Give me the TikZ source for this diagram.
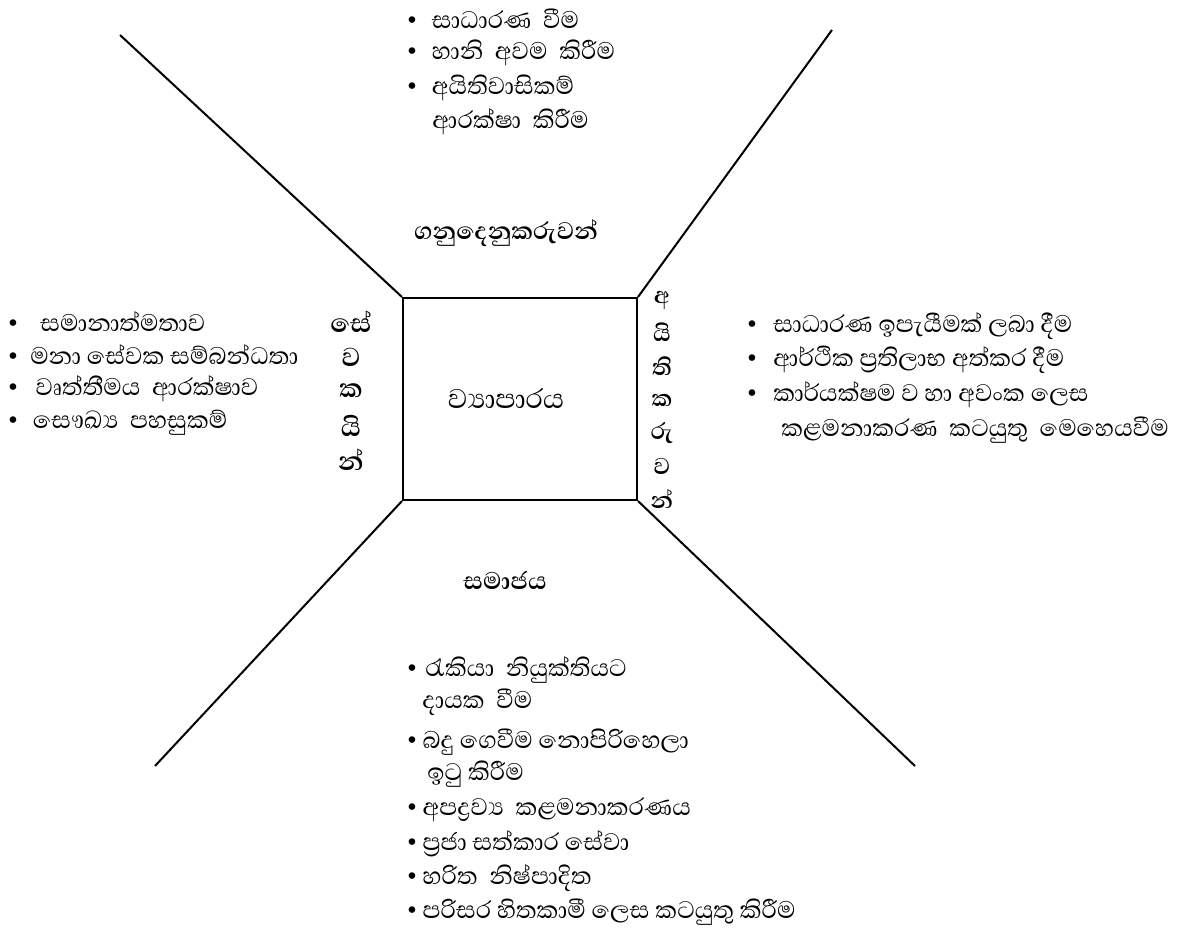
\documentclass[tikz,border=0pt]{standalone}
\usepackage{fontspec}
\newfontfamily\si[Script=Sinhala]{Abhaya Libre}
\newfontfamily\bulf{DejaVu Sans}
\newcommand\bl[1]{\makebox[#1][l]{\bulf\fontsize{17}{17}\selectfont •}}
\begin{document}
\begin{tikzpicture}[x=0.75pt,y=-0.75pt,
  ln/.style={line width=1.5pt},
  txt/.style={anchor=west,inner sep=0pt,font=\si\fontsize{23}{27}\selectfont},
  hd/.style={inner sep=0pt,font=\si\bfseries\fontsize{23}{27}\selectfont},
  vt/.style={inner sep=0pt,font=\si\bfseries\fontsize{25}{29}\selectfont},
  vtr/.style={inner sep=0pt,font=\si\bfseries\fontsize{22}{26}\selectfont}]
\useasboundingbox (0,0) rectangle (1193,930);
% central box
\node[draw,line width=1.5pt,minimum width=175.5pt,minimum height=151.5pt,inner sep=0pt] (biz) at (520,399) {};
\node[inner sep=0pt,font=\si\fontsize{26}{30}\selectfont] (bizt) at (506,398) {ව්‍යාපාරය};
% diagonals
\coordinate (tl) at (120,35);
\coordinate (tr) at (832,30);
\coordinate (bl) at (155,766);
\coordinate (br) at (915,766);
\draw[ln] (biz.north west) -- (tl);
\draw[ln] (biz.north east) -- (tr);
\draw[ln] (biz.south west) -- (bl);
\draw[ln] (biz.south east) -- (br);
% headings
\node[hd] (cust) at (506,233) {ගනුදෙනුකරුවන්};
\node[hd] (soc) at (505,580) {සමාජය};
% top list
\node[txt] (t1) at (405,19) {\bl{20pt}සාධාරණ\ \ වීම};
\node[txt] (t2) at (405,53) {\bl{20pt}හානි\ \ අවම\ \ කිරීම};
\node[txt] (t3) at (405,88) {\bl{20pt}අයිතිවාසිකම්};
\node[txt] (t4) at (432,122) {ආරක්ෂා\ \ කිරීම};
% left list
\node[txt] (l1) at (6,322) {\bl{25.5pt}සමානාත්මතාව};
\node[txt] (l2) at (6,355) {\bl{18pt}මනා සේවක සම්බන්ධතා};
\node[txt] (l3) at (6,389) {\bl{22pt}වෘත්තීමය\ \ ආරක්ෂාව};
\node[txt] (l4) at (6,423) {\bl{20pt}සෞඛ්‍ය\ \ පහසුකම්};
% left vertical
\node[vt] (e1) at (351,322) {සේ};
\node[vt] (e2) at (351,357) {ව};
\node[vt] (e3) at (351,391) {ක};
\node[vt] (e4) at (351,426) {යි};
\node[vt] (e5) at (351,460) {න්};
% right vertical
\node[vtr] (o1) at (662,300) {අ};
\node[vtr] (o2) at (662,332) {යි};
\node[vtr] (o3) at (662,366) {ති};
\node[vtr] (o4) at (662,400) {ක};
\node[vtr] (o5) at (662,433) {රු};
\node[vtr] (o6) at (662,466) {ව};
\node[vtr] (o7) at (662,499) {න්};
% right list
\node[txt] (r1) at (745,326) {\bl{21pt}සාධාරණ ඉපැයීමක් ලබා දීම};
\node[txt] (r2) at (745,360) {\bl{21pt}ආර්ථික ප්‍රතිලාභ අත්කර දීම};
\node[txt] (r3) at (745,395) {\bl{21pt}කාර්යක්ෂම ව හා අවංක ලෙස};
\node[txt] (r4) at (781,430) {කළමනාකරණ\ \ කටයුතු\ \ මෙහෙයවීම};
% bottom list
\node[txt] (b1) at (405,670) {\bl{15pt}රැකියා\ \ නියුක්තියට};
\node[txt] (b2) at (422,702) {දායක\ \ වීම};
\node[txt] (b3) at (405,742) {\bl{13pt}බදු ගෙවීම නොපිරිහෙලා};
\node[txt] (b4) at (427,774) {ඉටු කිරීම};
\node[txt] (b5) at (405,810) {\bl{13pt}අපද්‍රව්‍ය\ \ කළමනාකරණය};
\node[txt] (b6) at (405,844) {\bl{13pt}ප්‍රජා සත්කාර සේවා};
\node[txt] (b7) at (405,878) {\bl{13pt}හරිත\ \ නිෂ්පාදිත};
\node[txt] (b8) at (405,912) {\bl{13pt}පරිසර හිතකාමී ලෙස කටයුතු කිරීම};
\end{tikzpicture}
\end{document}
